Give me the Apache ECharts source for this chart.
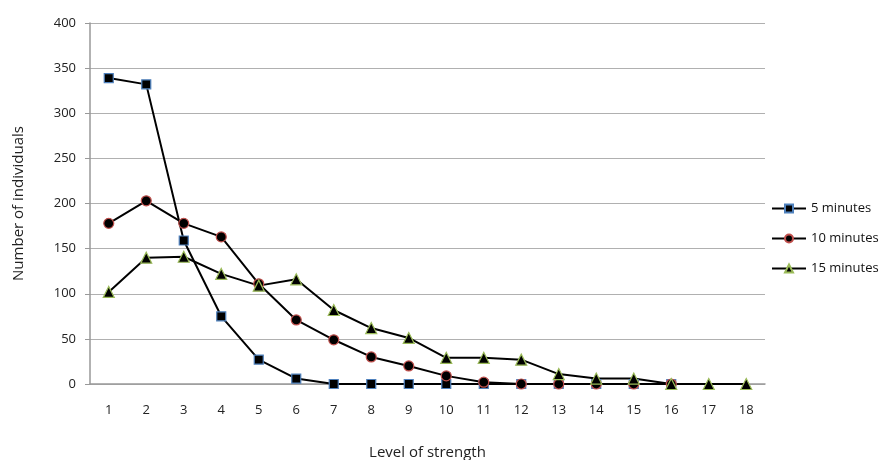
<!DOCTYPE html>
<html>
<head>
<meta charset="utf-8">
<script src="https://cdn.jsdelivr.net/npm/echarts@6/dist/echarts.min.js"></script>
<style>html,body{margin:0;padding:0;background:#fff}#c{width:885px;height:460px}</style>
</head>
<body>
<div id="c"></div>
<script>
var categories = ['1','2','3','4','5','6','7','8','9','10','11','12','13','14','15','16','17','18'];
var min5 = [339, 332, 159, 75, 27, 6, 0, 0, 0, 0, 0, 0, 0, 0, 0, 0, null, null];
var min10 = [178, 203, 178, 163, 111, 71, 49, 30, 20, 9, 2, 0, 0, 0, 0, 0, null, null];
var min15 = [102, 140, 141, 122, 109, 116, 82, 62, 51, 29, 29, 27, 11, 6, 6, 0, 0, 0];
var seriesNames = ['5 minutes', '10 minutes', '15 minutes'];

var font = '"Open Sans", "Noto Sans", sans-serif';
function mk(name, data, symbol, size, border) {
  return {
    name: name, type: 'line', data: data, symbol: symbol, symbolSize: size,
    lineStyle: {color: '#000', width: 2},
    itemStyle: {color: '#000', borderColor: border, borderWidth: 1.2},
    emphasis: {disabled: true}, animation: false
  };
}
var chart = echarts.init(document.getElementById('c'), null, {renderer: 'canvas'});
chart.setOption({
  animation: false,
  grid: {left: 90, right: 120, top: 23, bottom: 76, containLabel: false, outerBoundsMode: 'none'},
  legend: {
    orient: 'vertical', left: 766, top: 197, itemGap: 17,
    itemWidth: 34, itemHeight: 10,
    textStyle: {fontFamily: font, fontSize: 13, color: '#111'},
    data: seriesNames
  },
  xAxis: {
    type: 'category', data: categories, boundaryGap: true,
    axisLine: {lineStyle: {color: '#999', width: 1.5}},
    axisTick: {show: false},
    axisLabel: {fontFamily: font, fontSize: 13, color: '#222', margin: 20},
    name: 'Level of strength', nameLocation: 'middle', nameGap: 61,
    nameTextStyle: {fontFamily: font, fontSize: 15, color: '#222'}
  },
  yAxis: {
    type: 'value', min: 0, max: 400, interval: 50,
    axisLine: {show: true, lineStyle: {color: '#999', width: 1.5}},
    axisTick: {show: true, length: 5, lineStyle: {color: '#999'}},
    axisLabel: {fontFamily: font, fontSize: 13, color: '#222', margin: 14},
    splitLine: {lineStyle: {color: '#b0b0b0', width: 1.2}},
    name: 'Number of individuals', nameLocation: 'middle', nameGap: 64,
    nameTextStyle: {fontFamily: font, fontSize: 15, color: '#222'}
  },
  series: [
    mk(seriesNames[0], min5, 'rect', 9, '#4f81bd'),
    mk(seriesNames[1], min10, 'circle', 10, '#c0504d'),
    mk(seriesNames[2], min15, 'triangle', 11, '#9bbb59')
  ]
});
</script>
</body>
</html>
